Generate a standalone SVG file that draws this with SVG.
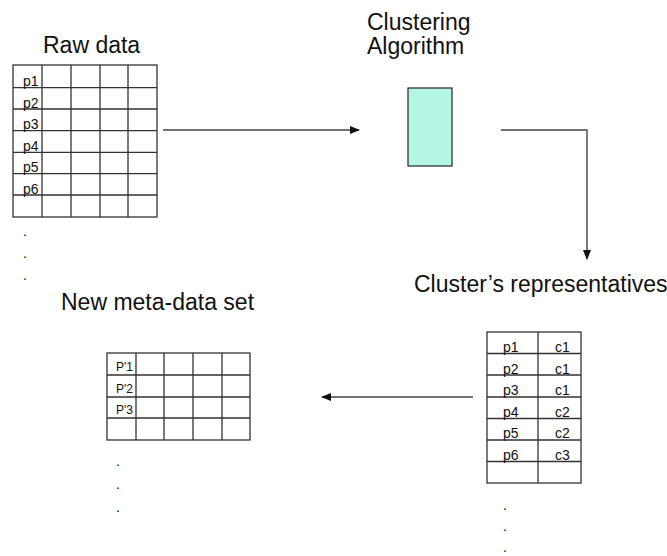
<svg xmlns="http://www.w3.org/2000/svg" width="667" height="556" viewBox="0 0 667 556">
<style>
  .title{font-family:"Liberation Sans",Arial,sans-serif;font-size:23px;fill:#111}
  .cell{font-family:"Liberation Sans",Arial,sans-serif;font-size:14px;fill:#111}
  .small{font-family:"Liberation Sans",Arial,sans-serif;font-size:12px;fill:#111}
  .grid{stroke:#333;stroke-width:1.3;fill:none}
  .conn{stroke:#444;stroke-width:1.4;fill:none}
</style>
<defs>
  <marker id="ah" markerWidth="10" markerHeight="8" refX="9" refY="4" orient="auto" markerUnits="userSpaceOnUse">
    <path d="M0,0 L10,4 L0,8 Z" fill="#111"/>
  </marker>
</defs>
<rect width="667" height="556" fill="#fff"/>

<g id="raw-data">
  <text class="title" x="43" y="53">Raw data</text>
  <rect class="grid" x="13" y="65" width="144" height="152"/>
  <path class="grid" d="M42,65V217M71,65V217M100,65V217M128,65V217M13,87.7H157M13,109H157M13,130.7H157M13,152.3H157M13,173.7H157M13,195H157"/>
  <text class="cell" x="23" y="86">p1</text>
  <text class="cell" x="23" y="107.5">p2</text>
  <text class="cell" x="23" y="129">p3</text>
  <text class="cell" x="23" y="150.7">p4</text>
  <text class="cell" x="23" y="172.2">p5</text>
  <text class="cell" x="23" y="193.6">p6</text>
  <text class="cell" x="23" y="236">.</text>
  <text class="cell" x="23" y="258">.</text>
  <text class="cell" x="23" y="280">.</text>
</g>

<g id="clustering-algorithm">
  <text class="title" x="367" y="30">Clustering</text>
  <text class="title" x="367" y="54">Algorithm</text>
  <rect x="408" y="88" width="44" height="78" fill="#b5f5e4" stroke="#333" stroke-width="1.3"/>
</g>

<g id="cluster-representatives">
  <text class="title" x="414" y="292">Cluster’s representatives</text>
  <rect class="grid" x="487" y="332" width="94" height="151"/>
  <path class="grid" d="M538,332V483M487,353.5H581M487,375H581M487,397H581M487,418.5H581M487,440H581M487,461.5H581"/>
  <text class="cell" x="503" y="352">p1</text><text class="cell" x="555" y="352">c1</text>
  <text class="cell" x="503" y="373.5">p2</text><text class="cell" x="555" y="373.5">c1</text>
  <text class="cell" x="503" y="395">p3</text><text class="cell" x="555" y="395">c1</text>
  <text class="cell" x="503" y="416.5">p4</text><text class="cell" x="555" y="416.5">c2</text>
  <text class="cell" x="503" y="438">p5</text><text class="cell" x="555" y="438">c2</text>
  <text class="cell" x="503" y="459.5">p6</text><text class="cell" x="555" y="459.5">c3</text>
  <text class="cell" x="503" y="510">.</text>
  <text class="cell" x="503" y="531">.</text>
  <text class="cell" x="503" y="552">.</text>
</g>

<g id="new-meta-data-set">
  <text class="title" x="61" y="310">New meta-data set</text>
  <rect class="grid" x="107" y="353" width="143" height="87"/>
  <path class="grid" d="M136,353V440M164,353V440M193,353V440M222,353V440M107,375H250M107,397H250M107,418H250"/>
  <text class="small" x="116" y="371">P'1</text>
  <text class="small" x="116" y="393">P'2</text>
  <text class="small" x="116" y="414">P'3</text>
  <text class="cell" x="116" y="466">.</text>
  <text class="cell" x="116" y="489">.</text>
  <text class="cell" x="116" y="512">.</text>
</g>

<g id="connectors">
  <path class="conn" d="M163,130H359" marker-end="url(#ah)"/>
  <path class="conn" d="M501,130H587V259" marker-end="url(#ah)"/>
  <path class="conn" d="M473,397H322" marker-end="url(#ah)"/>
</g>
</svg>
